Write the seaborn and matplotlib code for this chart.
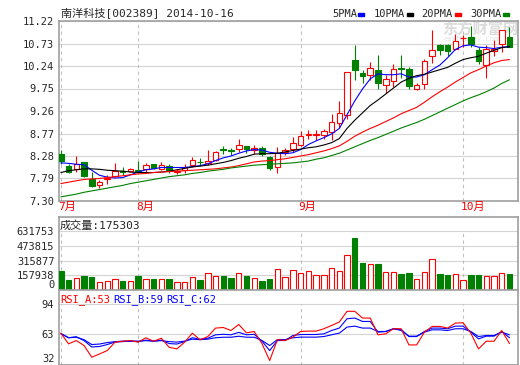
import numpy as np
import pandas as pd
import seaborn as sns
import matplotlib.pyplot as plt
from matplotlib.patches import Rectangle

# daily candles, 2014-07-18 .. 2014-10-16 (59 trading days)
open_ = [8.32, 8.07, 7.99, 8.14, 7.77, 7.64, 7.77, 7.84, 7.96, 7.95,
         7.98, 7.99, 8.10, 7.99, 8.07, 7.94, 7.97, 8.08, 8.16, 8.13,
         8.20, 8.43, 8.40, 8.44, 8.49, 8.40, 8.46, 8.26, 8.03, 8.36,
         8.43, 8.53, 8.74, 8.74, 8.73, 8.80, 8.99, 9.17, 10.36, 10.09,
         10.05, 10.15, 9.82, 9.92, 10.20, 10.18, 9.75, 9.84, 10.45, 10.70,
         10.70, 10.61, 10.85, 10.88, 10.59, 10.26, 10.57, 10.71, 10.88]
high = [8.42, 8.11, 8.29, 8.15, 7.93, 7.75, 7.87, 8.12, 8.04, 8.02,
        8.17, 8.13, 8.11, 8.15, 8.11, 8.00, 8.11, 8.26, 8.24, 8.40,
        8.38, 8.49, 8.46, 8.64, 8.49, 8.51, 8.50, 8.29, 8.48, 8.46,
        8.69, 8.83, 8.84, 8.84, 8.86, 9.19, 9.47, 10.12, 10.69, 10.15,
        10.33, 10.47, 10.05, 10.29, 10.47, 10.22, 9.86, 10.40, 11.02, 10.71,
        10.71, 10.93, 10.92, 11.12, 10.66, 10.70, 10.81, 11.02, 11.10]
low = [8.10, 7.90, 7.93, 7.82, 7.60, 7.58, 7.68, 7.82, 7.87, 7.93,
       7.92, 7.93, 8.00, 7.97, 7.90, 7.88, 7.92, 8.04, 8.06, 8.09,
       8.17, 8.33, 8.31, 8.37, 8.35, 8.33, 8.27, 7.97, 7.90, 8.30,
       8.37, 8.50, 8.64, 8.63, 8.64, 8.62, 8.88, 9.09, 9.93, 9.86,
       9.94, 9.75, 9.65, 9.78, 9.97, 9.73, 9.71, 9.75, 10.30, 10.48,
       10.46, 10.59, 10.66, 10.66, 10.29, 9.97, 10.46, 10.55, 10.66]
close = [8.17, 7.93, 8.11, 7.84, 7.63, 7.71, 7.81, 7.95, 7.94, 8.00,
         7.96, 8.09, 8.02, 8.09, 7.97, 7.95, 8.05, 8.20, 8.15, 8.18,
         8.36, 8.42, 8.39, 8.51, 8.43, 8.46, 8.32, 8.02, 8.35, 8.40,
         8.57, 8.71, 8.76, 8.75, 8.82, 9.01, 9.22, 10.10, 10.15, 10.02,
         10.20, 9.86, 9.95, 10.17, 10.18, 9.80, 9.82, 10.35, 10.58, 10.59,
         10.57, 10.79, 10.86, 10.71, 10.34, 10.61, 10.61, 11.02, 10.66]
volume = [200000, 105000, 134000, 147000, 137000, 84000, 95000, 123000, 95000, 95000,
          147000, 116000, 116000, 116000, 116000, 91000, 91000, 144000, 105000, 179000,
          147000, 147000, 126000, 186000, 147000, 126000, 97000, 116000, 228000, 144000,
          218000, 186000, 207000, 165000, 165000, 239000, 207000, 376000, 558000, 295000,
          281000, 284000, 197000, 197000, 168000, 179000, 123000, 197000, 334000, 168000,
          158000, 176000, 112000, 158000, 158000, 155000, 155000, 186000, 175303]

# moving averages as drawn
ma5 = [8.13, 8.12, 8.10, 8.09, 7.97, 7.86, 7.82, 7.80, 7.81, 7.87,
       7.93, 7.98, 8.00, 8.03, 8.03, 8.03, 8.03, 8.05, 8.07, 8.11,
       8.18, 8.24, 8.28, 8.34, 8.39, 8.42, 8.41, 8.36, 8.34, 8.33,
       8.35, 8.42, 8.53, 8.61, 8.68, 8.76, 8.88, 9.18, 9.48, 9.74,
       9.96, 10.07, 10.05, 10.05, 10.07, 10.00, 10.00, 10.05, 10.16, 10.26,
       10.42, 10.60, 10.68, 10.70, 10.65, 10.64, 10.62, 10.65, 10.66]
ma10 = [7.92, 7.96, 7.98, 8.00, 8.00, 7.99, 7.97, 7.96, 7.95, 7.93,
        7.92, 7.92, 7.92, 7.93, 7.95, 7.98, 8.01, 8.04, 8.06, 8.08,
        8.11, 8.14, 8.18, 8.23, 8.27, 8.32, 8.33, 8.33, 8.34, 8.37,
        8.40, 8.43, 8.46, 8.48, 8.52, 8.57, 8.66, 8.88, 9.06, 9.22,
        9.38, 9.50, 9.63, 9.76, 9.89, 9.97, 10.03, 10.06, 10.11, 10.16,
        10.21, 10.30, 10.38, 10.42, 10.45, 10.52, 10.58, 10.64, 10.66]
ma20 = [7.68, 7.71, 7.74, 7.77, 7.78, 7.79, 7.81, 7.83, 7.85, 7.87,
        7.89, 7.90, 7.92, 7.93, 7.94, 7.95, 7.96, 7.97, 7.98, 7.99,
        8.00, 8.02, 8.04, 8.07, 8.11, 8.15, 8.17, 8.18, 8.20, 8.22,
        8.25, 8.28, 8.31, 8.35, 8.39, 8.44, 8.50, 8.60, 8.71, 8.80,
        8.88, 8.95, 9.03, 9.11, 9.20, 9.27, 9.34, 9.45, 9.57, 9.68,
        9.78, 9.89, 9.99, 10.09, 10.16, 10.24, 10.31, 10.36, 10.38]
ma30 = [7.39, 7.42, 7.45, 7.49, 7.52, 7.55, 7.58, 7.61, 7.64, 7.68,
        7.71, 7.74, 7.77, 7.80, 7.83, 7.85, 7.87, 7.90, 7.92, 7.95,
        7.97, 7.99, 8.02, 8.04, 8.06, 8.08, 8.09, 8.10, 8.11, 8.12,
        8.13, 8.15, 8.17, 8.21, 8.24, 8.29, 8.34, 8.41, 8.48, 8.55,
        8.62, 8.68, 8.75, 8.82, 8.89, 8.95, 9.01, 9.08, 9.16, 9.24,
        9.32, 9.40, 9.48, 9.55, 9.61, 9.68, 9.76, 9.86, 9.94]

# RSI 6 / 12 / 24
rsi_a = [63.7, 52.7, 56.1, 51.0, 39.0, 42.3, 45.8, 54.4, 55.4, 56.1,
         54.4, 58.9, 55.4, 58.5, 49.2, 47.5, 54.4, 63.7, 56.8, 60.2,
         68.9, 69.5, 66.4, 72.6, 64.0, 65.4, 53.0, 35.5, 57.1, 56.1,
         59.6, 65.4, 65.8, 65.8, 68.2, 71.6, 75.1, 86.1, 86.1, 79.2,
         79.2, 62.0, 63.0, 68.2, 68.2, 51.6, 51.6, 64.7, 70.6, 70.6,
         68.9, 74.0, 74.4, 63.7, 47.5, 55.4, 55.4, 66.4, 53.0]
rsi_b = [63.5, 59.0, 60.0, 56.0, 49.5, 50.0, 52.0, 54.5, 55.0, 55.5,
         55.0, 56.5, 55.5, 56.5, 53.0, 52.5, 55.0, 59.0, 57.5, 58.5,
         62.0, 62.5, 62.0, 64.5, 62.0, 62.5, 55.5, 45.8, 56.1, 56.1,
         61.3, 62.3, 62.3, 62.3, 63.0, 66.4, 68.9, 78.5, 79.2, 75.7,
         75.7, 64.7, 65.4, 68.2, 67.5, 60.2, 60.2, 65.4, 68.9, 68.9,
         68.2, 70.9, 70.9, 64.7, 57.8, 60.6, 60.6, 65.4, 59.0]
rsi_c = [63.0, 59.0, 59.5, 57.0, 52.0, 52.5, 54.0, 55.0, 55.5, 55.5,
         55.5, 56.0, 55.5, 56.0, 55.0, 54.5, 55.5, 57.5, 57.0, 57.5,
         59.0, 59.5, 59.5, 60.5, 59.5, 59.5, 56.1, 51.0, 57.1, 57.1,
         58.9, 59.6, 59.6, 59.6, 60.2, 62.0, 63.7, 69.9, 70.9, 68.9,
         68.9, 65.4, 65.4, 68.2, 66.4, 60.6, 60.6, 64.7, 67.1, 67.1,
         66.4, 68.2, 68.2, 65.4, 60.2, 61.3, 61.3, 64.7, 62.0]

month_pos = [0, 10, 31, 52]
month_labels = ['7月', '8月', '9月', '10月']
price_ticks = [7.30, 7.79, 8.28, 8.77, 9.26, 9.75, 10.24, 10.73, 11.22]
vol_ticks = [0, 157938, 315877, 473815, 631753]
rsi_ticks = [32, 63, 94]

RED, GREEN, BLUE = '#FF0000', '#008000', '#0000FF'
GRID, FRAME, DASH = '#D4D4D4', '#A0A0A0', '#C0C0C0'

sns.set_style('white')
plt.rcParams['font.family'] = ['DejaVu Sans Mono', 'Noto Sans CJK SC']

d = pd.DataFrame({'open': open_, 'high': high, 'low': low, 'close': close,
                  'volume': volume, 'ma5': ma5, 'ma10': ma10, 'ma20': ma20,
                  'ma30': ma30, 'rsi_a': rsi_a, 'rsi_b': rsi_b, 'rsi_c': rsi_c})
d['i'] = np.arange(len(d))
up = d['close'] >= d['open']
col = np.where(up, RED, GREEN)
fill = np.where(up, 'white', GREEN)

W, H = 520, 365
def box(l, t, r, b):
    return [l / W, 1 - b / H, (r - l) / W, (b - t) / H]

fig = plt.figure(figsize=(5.2, 3.65), dpi=100)
ax = fig.add_axes(box(58.5, 21, 518, 201))
axv = fig.add_axes(box(58.5, 216.5, 518, 290))
axr = fig.add_axes(box(58.5, 290, 518, 364.5))

def frame(a, ticks, labels, ylim):
    a.set_xlim(-0.3, 59.1)
    a.set_ylim(*ylim)
    a.set_xticks([])
    a.set_yticks(ticks, labels=labels)
    a.tick_params(axis='y', length=0, pad=3, labelsize=7.5)
    a.grid(False)
    for t in ticks:
        a.axhline(t, color=GRID, lw=0.8, zorder=0.5)
    for s in a.spines.values():
        s.set_color(FRAME)
        s.set_linewidth(1.2)
    a.set_xlabel('')
    a.set_ylabel('')

# price panel
frame(ax, price_ticks, [f'{t:.2f}' for t in price_ticks], (7.30, 11.22))
ax.vlines(month_pos, 7.30, 11.22, colors=DASH, lw=0.8, linestyles=(0, (3, 3)), zorder=0.6)
ax.vlines(d['i'], d['low'], d['high'], colors=col, lw=0.8, zorder=3)
body = np.maximum((d['close'] - d['open']).abs(), 0.008)
ax.bar(d['i'], body, bottom=np.minimum(d['open'], d['close']), width=0.72,
       color=fill, edgecolor=col, linewidth=0.8, zorder=4)
for c, colr in [('ma5', BLUE), ('ma10', 'black'), ('ma20', RED), ('ma30', GREEN)]:
    sns.lineplot(data=d, x='i', y=c, color=colr, lw=0.8, ax=ax, zorder=5)
ax.set_xlabel('')
ax.set_ylabel('')
for p, m in zip(month_pos, month_labels):
    ax.text(p - 0.3, -0.035, m, transform=ax.get_xaxis_transform(),
            color=RED, fontsize=8, ha='left', va='center')

# watermark
ax.text(442 / W, 1 - 29 / H, '东方财富网', transform=fig.transFigure, color='#DCDCDC',
        fontsize=11, fontweight='bold', family='Noto Sans CJK SC', va='center', zorder=1)
ax.text(444 / W, 1 - 39.5 / H, 'eastmoney.com', transform=fig.transFigure, color='#E2E2E2',
        fontsize=5, va='center', zorder=1)

# volume panel
frame(axv, vol_ticks, [str(v) for v in vol_ticks], (0, 789691))
axv.vlines(month_pos, 0, 631753, colors=DASH, lw=0.8, linestyles=(0, (3, 3)), zorder=0.6)
axv.bar(d['i'], d['volume'], width=0.7, color=fill, edgecolor=col, linewidth=0.8, zorder=3)
axv.get_yticklabels()[0].set_verticalalignment('bottom')

# RSI panel
frame(axr, rsi_ticks, [str(v) for v in rsi_ticks], (31.5, 108))
axr.vlines(month_pos, 31.5, 94, colors=DASH, lw=0.8, linestyles=(0, (3, 3)), zorder=0.6)
for c, colr in [('rsi_c', BLUE), ('rsi_b', BLUE), ('rsi_a', RED)]:
    sns.lineplot(data=d, x='i', y=c, color=colr, lw=0.8, ax=axr, zorder=3)
axr.set_xlabel('')
axr.set_ylabel('')
axr.get_yticklabels()[0].set_verticalalignment('bottom')

# header texts
fig.text(61 / W, 1 - 14 / H, '南洋科技[002389] 2014-10-16', fontsize=8, va='center')
for name, tx, mx, colr in [('5PMA', 332, 358, BLUE), ('10PMA', 374, 406.5, 'black'),
                           ('20PMA', 421.5, 455, RED), ('30PMA', 470, 503, GREEN)]:
    fig.text(tx / W, 1 - 14 / H, name, fontsize=7.5, va='center')
    fig.add_artist(Rectangle((mx / W, 1 - 15.5 / H), 6 / W, 3 / H, color=colr,
                             transform=fig.transFigure))
fig.text(60 / W, 1 - 226 / H, '成交量:175303', fontsize=8, va='center')
for name, tx, colr in [('RSI_A:53', 60, RED), ('RSI_B:59', 113, BLUE), ('RSI_C:62', 166.5, BLUE)]:
    fig.text(tx / W, 1 - 300 / H, name, fontsize=7.5, va='center', color=colr)

fig.savefig('out.png', dpi=100, facecolor='white')
